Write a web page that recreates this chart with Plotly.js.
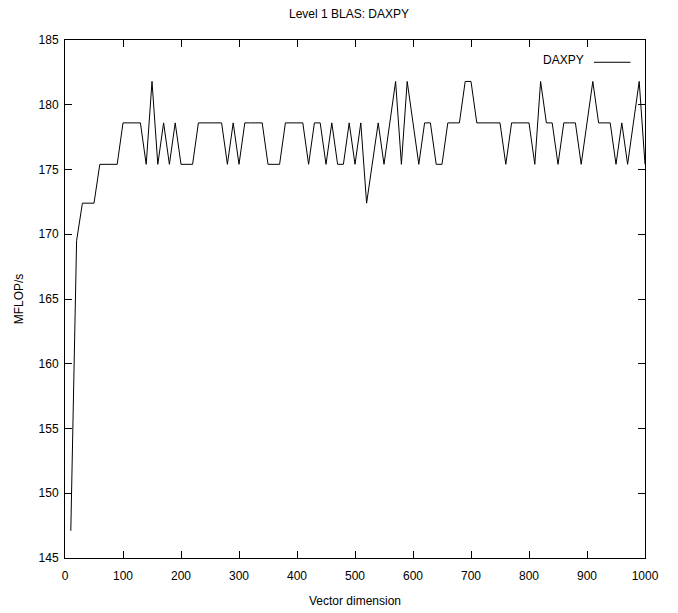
<!DOCTYPE html>
<html>
<head>
<meta charset="utf-8">
<script src="https://cdn.plot.ly/plotly-3.0.1.min.js"></script>
<style>html,body{margin:0;padding:0;background:#fff;}#chart{width:678px;height:613px;}</style>
</head>
<body>
<div id="chart"></div>
<script>
// Vector dimension (x) and measured MFLOP/s (y)
var vectorDimension = [10,20,30,40,50,60,70,80,90,100,
  110,120,130,140,150,160,170,180,190,200,
  210,220,230,240,250,260,270,280,290,300,
  310,320,330,340,350,360,370,380,390,400,
  410,420,430,440,450,460,470,480,490,500,
  510,520,530,540,550,560,570,580,590,600,
  610,620,630,640,650,660,670,680,690,700,
  710,720,730,740,750,760,770,780,790,800,
  810,820,830,840,850,860,870,880,890,900,
  910,920,930,940,950,960,970,980,990,1000];
var daxpyMflops = [147.1,169.5,172.4,172.4,172.4,175.4,175.4,175.4,175.4,178.6,
  178.6,178.6,178.6,175.4,181.8,175.4,178.6,175.4,178.6,175.4,
  175.4,175.4,178.6,178.6,178.6,178.6,178.6,175.4,178.6,175.4,
  178.6,178.6,178.6,178.6,175.4,175.4,175.4,178.6,178.6,178.6,
  178.6,175.4,178.6,178.6,175.4,178.6,175.4,175.4,178.6,175.4,
  178.6,172.4,175.4,178.6,175.4,178.6,181.8,175.4,181.8,178.6,
  175.4,178.6,178.6,175.4,175.4,178.6,178.6,178.6,181.8,181.8,
  178.6,178.6,178.6,178.6,178.6,175.4,178.6,178.6,178.6,178.6,
  175.4,181.8,178.6,178.6,175.4,178.6,178.6,178.6,175.4,178.6,
  181.8,178.6,178.6,178.6,175.4,178.6,175.4,178.6,181.8,175.4];
var seriesName = 'DAXPY';
var chartTitle = 'Level 1 BLAS: DAXPY';
var xTitle = 'Vector dimension';
var yTitle = 'MFLOP/s';

var font = 'Liberation Sans, Arial, Helvetica, sans-serif';

var trace = {
  x: vectorDimension,
  y: daxpyMflops,
  name: seriesName,
  type: 'scatter',
  mode: 'lines',
  line: {color: '#000000', width: 1},
  showlegend: false
};

var axisCommon = {
  showgrid: false,
  zeroline: false,
  showline: true,
  linecolor: '#000000',
  linewidth: 1,
  mirror: 'ticks',
  ticks: 'inside',
  ticklen: 7,
  tickcolor: '#000000',
  tickwidth: 1,
  tickfont: {family: font, size: 12, color: '#000000'}
};

var layout = {
  width: 678,
  height: 613,
  paper_bgcolor: '#ffffff',
  plot_bgcolor: '#ffffff',
  margin: {l: 65, r: 33, t: 40, b: 55},
  font: {family: font, size: 12, color: '#000000'},
  title: {text: chartTitle, font: {family: font, size: 12, color: '#000000'},
          x: 349/678, xanchor: 'center', y: 1 - 13.5/613, yanchor: 'middle', yref: 'container'},
  xaxis: Object.assign({}, axisCommon, {
    range: [0, 1000], tick0: 0, dtick: 100,
    ticklabelstandoff: 7,
    title: {text: xTitle, font: {family: font, size: 12, color: '#000000'}, standoff: 14}
  }),
  yaxis: Object.assign({}, axisCommon, {
    range: [145, 185], tick0: 145, dtick: 5,
    ticklabelstandoff: 3,
    title: {text: yTitle, font: {family: font, size: 12, color: '#000000'}, standoff: 12}
  }),
  annotations: [{
    xref: 'paper', yref: 'paper', x: 0.898, y: 0.961,
    xanchor: 'right', yanchor: 'middle', showarrow: false,
    text: seriesName, font: {family: font, size: 12, color: '#000000'}
  }],
  shapes: [{
    type: 'line', xref: 'paper', yref: 'paper',
    x0: 0.912, x1: 0.975, y0: 0.957, y1: 0.957,
    line: {color: '#000000', width: 1}
  }]
};

Plotly.newPlot('chart', [trace], layout, {displayModeBar: false, staticPlot: true});
</script>
</body>
</html>
